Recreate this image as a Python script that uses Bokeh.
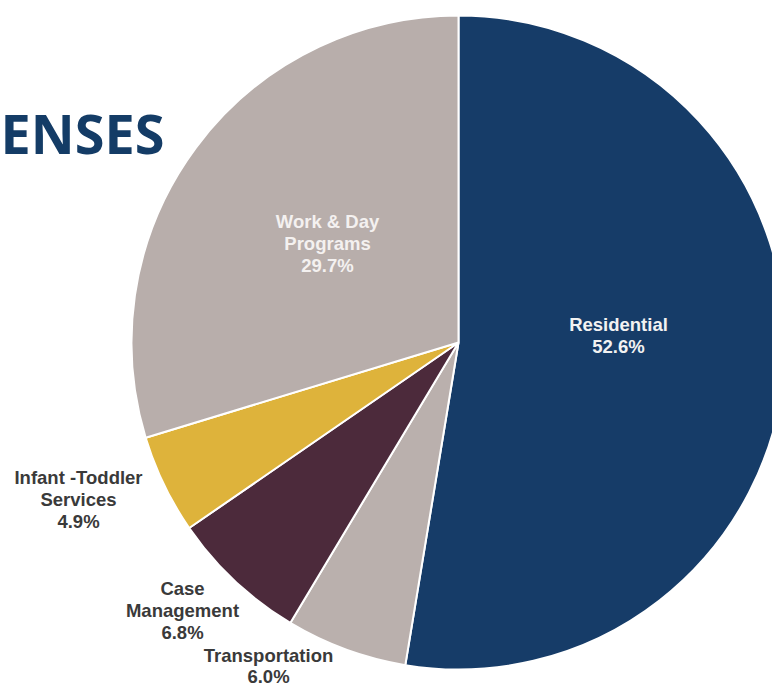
import numpy as np
from bokeh.plotting import figure
from bokeh.models import Range1d, ColumnDataSource
from bokeh.core.properties import value
from bokeh.embed import file_html
from bokeh.resources import INLINE

# ---- data ----
categories = ["Residential", "Transportation", "Case Management", "Infant -Toddler Services", "Work & Day Programs"]
shares = [52.6, 6.0, 6.8, 4.9, 29.7]
label_lines = [["Residential"], ["Transportation"], ["Case", "Management"], ["Infant -Toddler", "Services"], ["Work & Day", "Programs"]]
colors = ["#163C68", "#BAB0AD", "#4C2A3B", "#DEB33B", "#B8AEAB"]
title_text = "ENSES"

# ---- layout (pixel space of the figure) ----
W, H = 772, 690
def fy(y_screen):
    return H - y_screen
def fx(x_screen):
    return x_screen

cx, cy, r = fx(458), fy(342), 327

p = figure(width=W, height=H, output_backend="svg", toolbar_location=None,
           x_range=Range1d(0, W), y_range=Range1d(0, H), min_border=0)
p.axis.visible = False
p.grid.visible = False
p.outline_line_color = None
p.background_fill_color = "white"
p.border_fill_color = "white"

frac = np.array(shares) / np.sum(shares)
cum = np.concatenate([[0], np.cumsum(frac)])
start = np.pi / 2 - cum[:-1] * 2 * np.pi
end = np.pi / 2 - cum[1:] * 2 * np.pi
src = ColumnDataSource(dict(start=start, end=end, color=colors))
p.wedge(x=cx, y=cy, radius=r, start_angle="start", end_angle="end", direction="clock",
        fill_color="color", line_color="white", line_width=2, source=src)

# label positions (centre x, first line centre y), colours, line gaps
label_pos = [(618, 324), (268, 655), (182, 588), (78, 477), (327, 221)]
label_gap = [22, 21, 22, 22, 22]
label_col = ["#F2F2F2", "#3A3A3A", "#3A3A3A", "#3A3A3A", "#F4F1F0"]

xs, ys, ts, cs = [], [], [], []
for lines, share, (lx, ly), g, c in zip(label_lines, shares, label_pos, label_gap, label_col):
    allines = lines + [f"{share:.1f}%"]
    for i, t in enumerate(allines):
        xs.append(fx(lx)); ys.append(fy(ly + i * g)); ts.append(t); cs.append(c)
p.text(x=xs, y=ys, text=ts, text_color=cs, text_align="center", text_baseline="middle",
       text_font=value("Liberation Sans"), text_font_style="bold", text_font_size="18.5px")

p.text(x=[fx(0)], y=[fy(132)], text=[title_text], text_color="#143C66", text_align="left",
       text_baseline="alphabetic", text_font=value("Open Sans"), text_font_style="bold",
       text_font_size="54px")

open("out.html", "w").write(file_html(p, INLINE))
